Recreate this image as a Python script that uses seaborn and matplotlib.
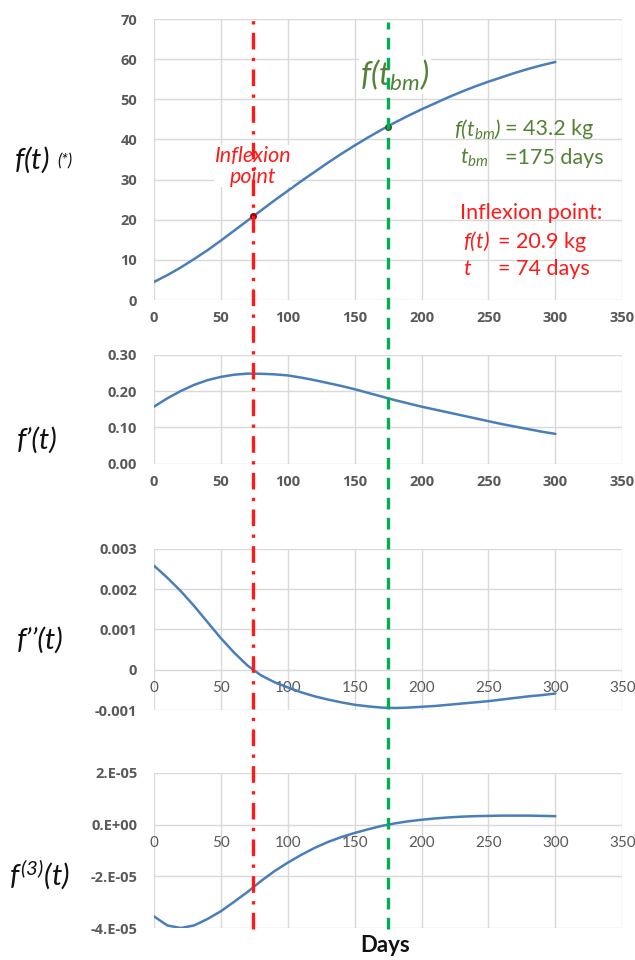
import matplotlib
matplotlib.use("Agg")
import numpy as np
import pandas as pd
import matplotlib.pyplot as plt
import matplotlib.transforms as mtransforms
from matplotlib.lines import Line2D
import seaborn as sns

# ---- data ----
days = [0, 10, 20, 30, 40, 50, 60, 70, 80, 90, 100, 110, 120, 130, 140, 150,
        160, 170, 180, 190, 200, 210, 220, 230, 240, 250, 260, 270, 280, 290, 300]

f_t = [4.5, 6.2, 8.1, 10.2, 12.4, 14.8, 17.3, 19.8, 22.3, 24.8, 27.2, 29.6,
       31.9, 34.2, 36.4, 38.5, 40.5, 42.4, 44.2, 45.9, 47.5, 49.0, 50.5, 51.9,
       53.2, 54.4, 55.5, 56.6, 57.6, 58.5, 59.3]

f1_t = [0.157, 0.180, 0.200, 0.217, 0.230, 0.239, 0.245, 0.248, 0.2475, 0.246,
        0.243, 0.237, 0.230, 0.222, 0.214, 0.205, 0.195, 0.185, 0.175, 0.166,
        0.157, 0.149, 0.141, 0.133, 0.125, 0.117, 0.109, 0.102, 0.095, 0.088, 0.082]

f2_t = [0.00258, 0.00228, 0.00195, 0.00158, 0.00118, 0.00078, 0.00042, 0.00010,
        -0.00014, -0.00031, -0.00044, -0.00056, -0.00066, -0.00074, -0.00081,
        -0.00087, -0.00091, -0.00094, -0.00095, -0.00094, -0.00092, -0.00090,
        -0.00087, -0.00084, -0.00081, -0.00078, -0.00074, -0.00070, -0.00066,
        -0.00063, -0.00059]

f3_t = [-3.55e-5, -3.90e-5, -4.00e-5, -3.90e-5, -3.65e-5, -3.35e-5, -2.98e-5,
        -2.60e-5, -2.18e-5, -1.80e-5, -1.47e-5, -1.17e-5, -0.90e-5, -0.67e-5,
        -0.48e-5, -0.32e-5, -0.18e-5, -0.05e-5, 0.05e-5, 0.13e-5, 0.19e-5,
        0.24e-5, 0.28e-5, 0.31e-5, 0.33e-5, 0.34e-5, 0.35e-5, 0.35e-5, 0.35e-5,
        0.34e-5, 0.33e-5]

t_inflexion, f_inflexion = 74, 20.9
t_bm, f_bm = 175, 43.2

x_ticks = [0, 50, 100, 150, 200, 250, 300, 350]
y1_ticks = [0, 10, 20, 30, 40, 50, 60, 70]
y2_ticks = [0.0, 0.1, 0.2, 0.3]
y2_labels = ["0.00", "0.10", "0.20", "0.30"]
y3_ticks = [-0.001, 0, 0.001, 0.002, 0.003]
y3_labels = ["-0.001", "0", "0.001", "0.002", "0.003"]
y4_ticks = [-4e-5, -2e-5, 0, 2e-5]
y4_labels = ["-4.E-05", "-2.E-05", "0.E+00", "2.E-05"]

sns.set_theme(style="white")
plt.rcParams['font.family'] = ['Lato', 'DejaVu Sans']
plt.rcParams['mathtext.fontset'] = 'custom'
plt.rcParams['mathtext.it'] = 'Lato:italic'
plt.rcParams['mathtext.rm'] = 'Lato:italic'

blue = '#4a7ebb'
red = '#ff1a1a'
green = '#00b050'
dkgreen = '#548235'
grid_c = '#d9d9d9'
tick_c = '#595959'
ink = '#111111'

df = pd.DataFrame({'days': days, 'f': f_t, 'f1': f1_t, 'f2': f2_t, 'f3': f3_t})

fig = plt.figure(figsize=(6.35, 9.6), dpi=100)
ax1 = fig.add_axes([0.2425, 0.6875, 0.7375, 0.2927])
ax2 = fig.add_axes([0.2425, 0.517, 0.7375, 0.1135])
ax3 = fig.add_axes([0.2425, 0.2604, 0.7375, 0.168])
ax4 = fig.add_axes([0.2425, 0.0333, 0.7375, 0.1615])

panels = [(ax1, 'f', (0, 70), y1_ticks, [str(v) for v in y1_ticks]),
          (ax2, 'f1', (0, 0.3), y2_ticks, y2_labels),
          (ax3, 'f2', (-0.001, 0.003), y3_ticks, y3_labels),
          (ax4, 'f3', (-4e-5, 2e-5), y4_ticks, y4_labels)]

for ax, col, ylim, yt, yl in panels:
    sns.lineplot(data=df, x='days', y=col, ax=ax, color=blue, lw=1.8)
    ax.set_xlim(0, 350)
    ax.set_ylim(*ylim)
    ax.set_xticks(x_ticks)
    ax.set_xticklabels([str(v) for v in x_ticks])
    ax.set_yticks(yt)
    ax.set_yticklabels(yl)
    ax.grid(True, color=grid_c, lw=1)
    ax.set_axisbelow(True)
    for s in ax.spines.values():
        s.set_visible(False)
    ax.tick_params(length=0, labelcolor=tick_c)
    ax.tick_params(axis='y', pad=12)
    ax.tick_params(axis='x', pad=8)
    for lab in ax.get_xticklabels() + ax.get_yticklabels():
        lab.set_fontfamily('Open Sans')
        lab.set_fontweight('bold')
        lab.set_fontsize(10.5)
    ax.set_xlabel('')
    ax.set_ylabel('')

# x axis crosses at zero for the two lower panels
for ax in (ax3, ax4):
    ax.spines['bottom'].set_position(('data', 0))

# vertical guide lines through all panels
trans = mtransforms.blended_transform_factory(ax1.transData, fig.transFigure)
fig.add_artist(Line2D([t_inflexion, t_inflexion], [0.032, 0.979], transform=trans,
                      color=red, lw=2.4, linestyle=(0, (5, 2.5, 1, 2.5)), zorder=3))
fig.add_artist(Line2D([t_bm, t_bm], [0.032, 0.977], transform=trans,
                      color=green, lw=2.4, linestyle=(0, (3.5, 2.5)), zorder=3))

# points on f(t)
ax1.plot([t_inflexion], [f_inflexion], 'o', color='#a00000', ms=4, zorder=5)
ax1.plot([t_bm], [f_bm], 'o', color='#2a5a1a', ms=4, zorder=5)

# annotations in the top panel
ax1.text(t_inflexion, 33.3, 'Inflexion\npoint', color=red, fontsize=15.5,
         style='italic', ha='center', va='center', linespacing=1.05, zorder=6,
         bbox=dict(facecolor='white', edgecolor='none', pad=0.3))
ax1.text(180, 56, r'$f(t_{bm})$', color=dkgreen, fontsize=23,
         ha='center', va='center', zorder=6,
         bbox=dict(facecolor='white', edgecolor='none', pad=1))
ax1.text(224, 42.5, r'$f(t_{bm})$', color=dkgreen, fontsize=15.5,
         ha='left', va='center', zorder=6)
ax1.text(262, 42.5, '= 43.2 kg', color=dkgreen, fontsize=15.5,
         ha='left', va='center', zorder=6)
ax1.text(229, 35.3, r'$t_{bm}$', color=dkgreen, fontsize=15.5,
         ha='left', va='center', zorder=6)
ax1.text(262, 35.3, '=175 days', color=dkgreen, fontsize=15.5,
         ha='left', va='center', zorder=6)
ax1.text(229, 21.7, 'Inflexion point:', color=red, fontsize=15.5,
         ha='left', va='center', zorder=6)
ax1.text(231, 14.5, r'$f(t)$', color=red, fontsize=15.5,
         ha='left', va='center', zorder=6)
ax1.text(257, 14.5, '= 20.9 kg', color=red, fontsize=15.5,
         ha='left', va='center', zorder=6)
ax1.text(231, 7.6, r'$t$', color=red, fontsize=15.5,
         ha='left', va='center', zorder=6)
ax1.text(257, 7.6, '= 74 days', color=red, fontsize=15.5,
         ha='left', va='center', zorder=6)

# y labels on the left
fig.text(0.022, 1 - 160 / 960, r'$f(t)$', fontsize=21, ha='left', va='center', color=ink)
fig.text(0.090, 1 - 161 / 960, '(*)', fontsize=12, style='italic', ha='left', va='center', color=ink)
fig.text(0.026, 1 - 440 / 960, 'f’(t)', fontsize=21, style='italic', ha='left', va='center', color=ink)
fig.text(0.026, 1 - 640 / 960, 'f’’(t)', fontsize=21, style='italic', ha='left', va='center', color=ink)
fig.text(0.014, 1 - 875 / 960, r'$f^{(3)}(t)$', fontsize=21, ha='left', va='center', color=ink)

fig.text(0.607, 1 - 945 / 960, 'Days', fontsize=16, fontweight='bold', ha='center', va='center', color=ink)

plt.savefig('out.png', dpi=100)
